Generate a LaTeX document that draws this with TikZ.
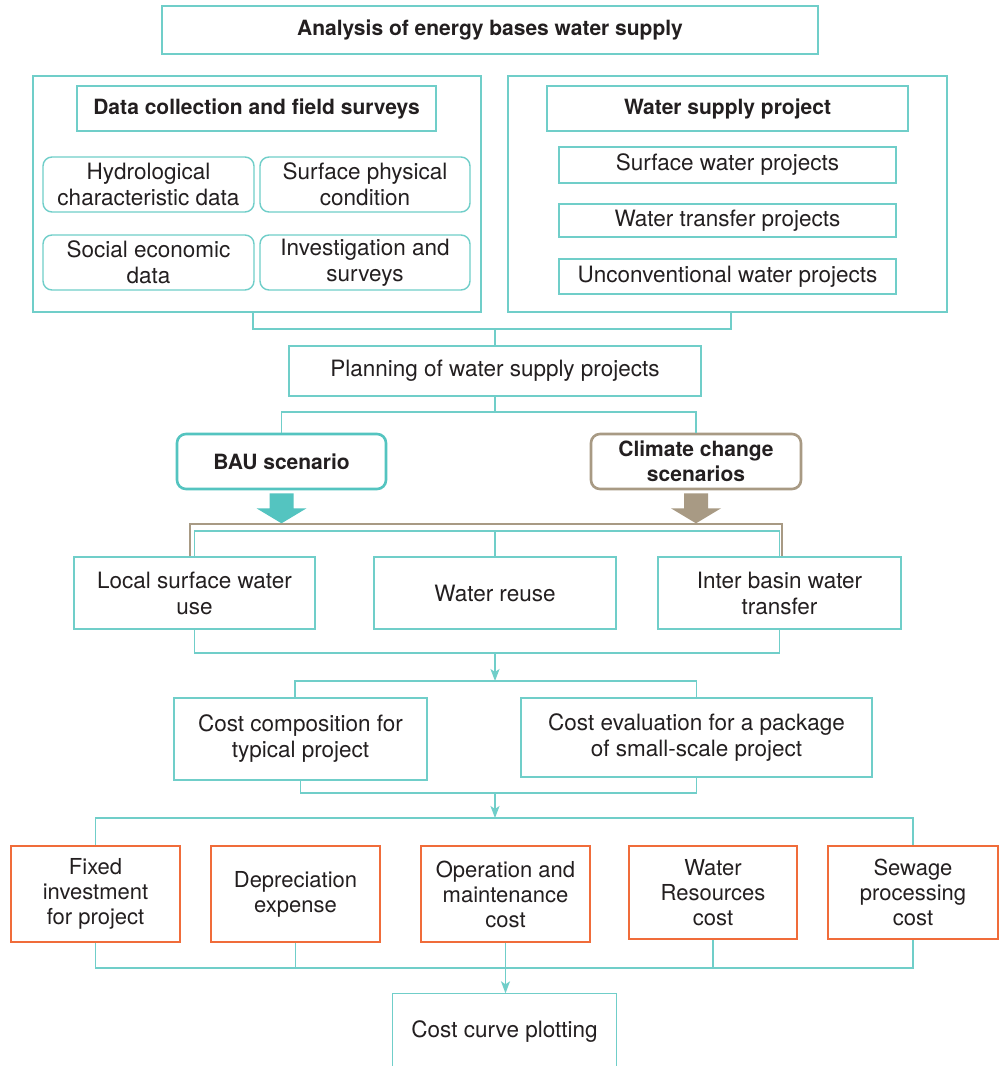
\documentclass[tikz,border=0pt]{standalone}
\usepackage{fontspec}
\setmainfont{TeX Gyre Heros}
\usetikzlibrary{arrows.meta,calc}
\definecolor{tl}{RGB}{112,206,201}
\definecolor{baut}{RGB}{84,196,192}
\definecolor{brn}{RGB}{168,154,132}
\definecolor{org}{RGB}{240,108,58}
\definecolor{txt}{RGB}{35,31,32}
\tikzset{
  bx/.style={draw=tl, line width=1.4pt, inner sep=0pt, align=center, text=txt},
  rbx/.style={bx, rounded corners=9pt},
  obx/.style={bx, draw=org, font=\fontsize{22}{25}\selectfont},
  hdr/.style={font=\fontsize{21}{25}\selectfont\bfseries},
  conn/.style={draw=tl, line width=1.4pt},
  arr/.style={conn, -{Stealth[length=12pt,width=9pt,inset=3pt]}},
  brnl/.style={draw=brn, line width=1.6pt},
}
\begin{document}
\begin{tikzpicture}[x=1pt,y=-1pt,font=\fontsize{22.5}{26}\selectfont]
\useasboundingbox (0,0) rectangle (999,1066);
\clip (0,0) rectangle (999,1066);
\fill[white] (0,0) rectangle (999,1066);

% top
\node[bx,hdr,minimum width=656pt,minimum height=48pt] (title) at (490,30) {Analysis of energy bases water supply};

% left group
\node[bx,minimum width=448pt,minimum height=236pt] (leftbig) at (257,194) {};
\node[bx,hdr,minimum width=359pt,minimum height=45pt] (dc) at (256.5,108.5) {Data collection and field surveys};
\node[rbx,minimum width=211pt,minimum height=55pt] (hyd) at (148.5,184.5) {Hydrological\\characteristic data};
\node[rbx,minimum width=210pt,minimum height=55pt] (spc) at (365,184.5) {Surface physical\\condition};
\node[rbx,minimum width=211pt,minimum height=55pt] (soc) at (148.5,262.5) {Social economic\\data};
\node[rbx,minimum width=210pt,minimum height=55pt] (inv) at (365,262.5) {Investigation and\\surveys};

% right group
\node[bx,minimum width=439pt,minimum height=236pt] (rightbig) at (727.5,194) {};
\node[bx,hdr,minimum width=361pt,minimum height=45pt] (wsp) at (727.5,108.5) {Water supply project};
\node[bx,minimum width=337pt,minimum height=36pt] (swp) at (727.5,165) {Surface water projects};
\node[bx,minimum width=337pt,minimum height=33pt] (wtp) at (727.5,220.5) {Water transfer projects};
\node[bx,minimum width=337pt,minimum height=35pt] (uwp) at (727.5,276.5) {Unconventional water projects};

% planning
\node[bx,minimum width=412pt,minimum height=50pt] (plan) at (495,371) {Planning of water supply projects};
\coordinate (b1) at (495,329);
\coordinate (j1) at (253,329);
\coordinate (j2) at (731,329);
\draw[conn] (leftbig.south -| j1) -- (j1) -- (j2) -- (rightbig.south -| j2);
\draw[conn] (b1) -- (plan.north);

% scenarios
\node[rbx,hdr,draw=baut,line width=2.6pt,minimum width=209pt,minimum height=55pt] (bau) at (281.5,461.5) {BAU scenario};
\node[rbx,hdr,draw=brn,line width=2.6pt,minimum width=210pt,minimum height=55pt] (cc) at (696,461.5) {Climate change\\scenarios};
\coordinate (b2) at (495,412);
\draw[conn] (plan.south) -- (b2);
\draw[conn] (bau.north) |- (b2) -| (cc.north);

% block arrows
\fill[baut] ($(bau.south)+(-12,3)$) -- ++(24,0) -- ++(0,15) -- ++(13,0) -- ++(-25,15) -- ++(-25,-15) -- ++(13,0) -- cycle;
\fill[brn] ($(cc.south)+(-12,3)$) -- ++(24,0) -- ++(0,15) -- ++(13,0) -- ++(-25,15) -- ++(-25,-15) -- ++(13,0) -- cycle;

% options
\node[bx,minimum width=241pt,minimum height=72pt] (lsw) at (194.5,593) {Local surface water\\use};
\node[bx,minimum width=242pt,minimum height=72pt] (wr) at (495,593) {Water reuse};
\node[bx,minimum width=243pt,minimum height=72pt] (ibw) at (779.5,593) {Inter basin water\\transfer};

\coordinate (br1) at (190,524);
\coordinate (br2) at (782,524);
\draw[brnl] (br1 |- lsw.north) -- (br1) -- (br2) -- (br2 |- ibw.north);
\coordinate (b3) at (495,531);
\draw[conn] (lsw.north) |- (b3) -| (ibw.north);
\draw[conn] (b3) -- (wr.north);

% cost composition
\node[bx,minimum width=253pt,minimum height=82pt] (ccp) at (300.5,739) {Cost composition for\\typical project};
\node[bx,minimum width=351pt,minimum height=79pt] (cev) at (696.5,737.5) {Cost evaluation for a package\\of small-scale project};
\coordinate (b4) at (495,653);
\coordinate (b5) at (495,681);
\coordinate (j3) at (295,681);
\draw[conn] (lsw.south) |- (b4) -| (ibw.south);
\draw[arr] (b4) -- (b5);
\draw[conn] (ccp.north -| j3) -- (j3) -| (cev.north);

% cost items
\node[obx,minimum width=169pt,minimum height=96pt] (o1) at (95.5,894) {Fixed\\investment\\for project};
\node[obx,minimum width=169pt,minimum height=96pt] (o2) at (295.5,894) {Depreciation\\expense};
\node[obx,minimum width=169pt,minimum height=96pt] (o3) at (505.5,894) {Operation and\\maintenance\\cost};
\node[obx,minimum width=168pt,minimum height=93pt] (o4) at (713,892.5) {Water\\Resources\\cost};
\node[obx,minimum width=170pt,minimum height=93pt] (o5) at (913,892.5) {Sewage\\processing\\cost};
\coordinate (b6) at (495,793);
\coordinate (b7) at (495,818);
\draw[conn] (ccp.south) |- (b6) -| (cev.south);
\draw[arr] (b6) -- (b7);
\draw[conn] (o1.north) |- (b7) -| (o5.north);

% cost curve
\node[bx,draw=none,minimum width=223pt,minimum height=76pt] (ccurve) at (504.5,1032) {Cost curve plotting};
\draw[conn] (ccurve.south west) -- (ccurve.north west) -- (ccurve.north east) -- (ccurve.south east);
\coordinate (b8) at (505.5,968);
\draw[conn] (o1.south) |- (b8) -| (o5.south);
\draw[conn] (o2.south) -- (o2.south |- b8);
\draw[conn] (o4.south) -- (o4.south |- b8);
\draw[arr] (o3.south) -- (o3.south |- ccurve.north);
\end{tikzpicture}
\end{document}
